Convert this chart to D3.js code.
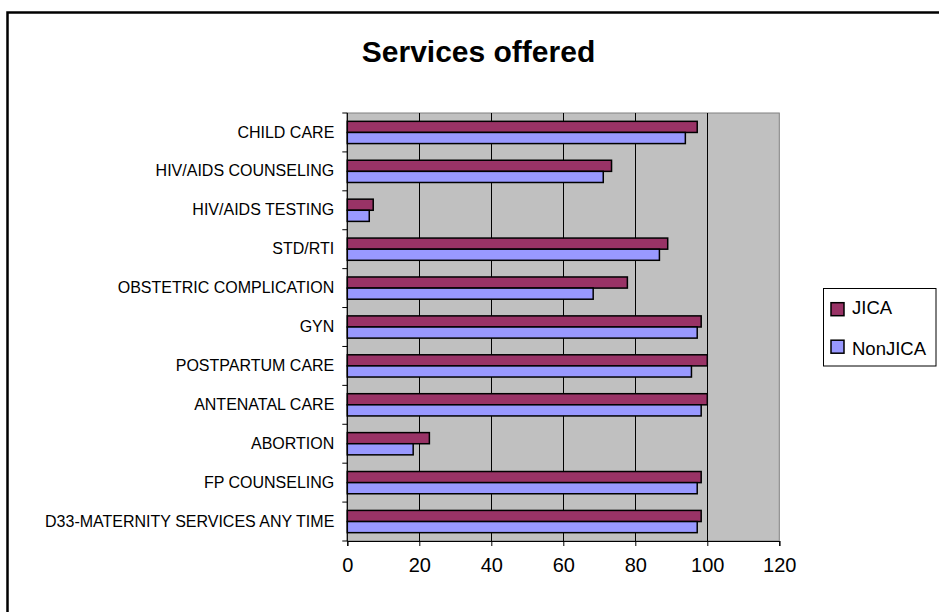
<!DOCTYPE html>
<html>
<head>
<meta charset="utf-8">
<script src="https://cdn.jsdelivr.net/npm/d3@7"></script>
<style>
  html, body { margin: 0; padding: 0; background: #fff; }
  svg { display: block; }
  text { font-family: "Liberation Sans", Arial, sans-serif; }
</style>
</head>
<body>
<script>
// ---- data ----
const categories = [
  "CHILD CARE",
  "HIV/AIDS COUNSELING",
  "HIV/AIDS TESTING",
  "STD/RTI",
  "OBSTETRIC COMPLICATION",
  "GYN",
  "POSTPARTUM CARE",
  "ANTENATAL CARE",
  "ABORTION",
  "FP COUNSELING",
  "D33-MATERNITY SERVICES ANY TIME"
];
const seriesNames = ["JICA", "NonJICA"];
const jicaValues    = [97.2, 73.4, 7.2, 89.0, 77.8, 98.3, 100, 100, 22.8, 98.3, 98.3];
const nonJicaValues = [93.9, 71.1, 6.1, 86.7, 68.3, 97.2, 95.6, 98.3, 18.3, 97.2, 97.2];
const xTicks = [0, 20, 40, 60, 80, 100, 120];
const seriesColors = ["#993366", "#9999FF"];
const title = "Services offered";

// ---- layout ----
const W = 939, H = 612;
const plot = { left: 347.3, right: 779.3, top: 113, bottom: 541 };

const svg = d3.select("body").append("svg").attr("width", W).attr("height", H);

// outer chart border (extends beyond the frame to right/bottom)
svg.append("rect")
  .attr("x", 7.5).attr("y", 12.5)
  .attr("width", 1000).attr("height", 1000)
  .attr("fill", "#fff").attr("stroke", "#000").attr("stroke-width", 2.5);

// title
svg.append("text")
  .attr("x", 478.5).attr("y", 62)
  .attr("text-anchor", "middle")
  .attr("font-size", 30).attr("font-weight", "bold")
  .text(title);

const x = d3.scaleLinear().domain([0, 120]).range([plot.left, plot.right]);
const p = 1.5 / 3.5;
const y = d3.scaleBand().domain(categories)
  .range([plot.top, plot.bottom]).paddingInner(p).paddingOuter(p / 2);
const ySub = d3.scaleBand().domain(seriesNames).range([0, y.bandwidth()]);

// plot background
svg.append("rect")
  .attr("x", plot.left).attr("y", plot.top)
  .attr("width", plot.right - plot.left).attr("height", plot.bottom - plot.top)
  .attr("fill", "#C0C0C0").attr("stroke", "#808080").attr("stroke-width", 1);

// gridlines
svg.append("g").selectAll("line")
  .data(xTicks.filter(d => d > 0 && d < 120))
  .join("line")
  .attr("x1", d => Math.round(x(d)) + 0.5).attr("x2", d => Math.round(x(d)) + 0.5)
  .attr("y1", plot.top).attr("y2", plot.bottom)
  .attr("stroke", "#000").attr("stroke-width", 1);

// bars
const data = categories.map((c, i) => ({ cat: c, vals: [jicaValues[i], nonJicaValues[i]] }));
const groups = svg.append("g").selectAll("g")
  .data(data).join("g")
  .attr("transform", d => `translate(0,${y(d.cat)})`);
groups.selectAll("rect")
  .data(d => d.vals.map((v, k) => ({ name: seriesNames[k], v, k })))
  .join("rect")
  .attr("x", x(0))
  .attr("y", d => ySub(d.name))
  .attr("width", d => x(d.v) - x(0))
  .attr("height", ySub.bandwidth())
  .attr("fill", d => seriesColors[d.k])
  .attr("stroke", "#000").attr("stroke-width", 1.5);

// x axis
const xAxis = d3.axisBottom(x).tickValues(xTicks).tickSizeOuter(0).tickSize(5).tickPadding(5);
const gx = svg.append("g").attr("transform", `translate(0,${plot.bottom})`).call(xAxis);
gx.select(".domain").attr("stroke", "#000").attr("stroke-width", 1.2);
gx.selectAll(".tick line").attr("stroke", "#000");
gx.selectAll(".tick text")
  .attr("font-size", 20).attr("fill", "#000")
  .attr("font-family", "'Liberation Sans', Arial, sans-serif")
  .attr("dy", "1.05em");

// y axis line + ticks at band boundaries
const gy = svg.append("g");
gy.append("line")
  .attr("x1", plot.left).attr("x2", plot.left)
  .attr("y1", plot.top).attr("y2", plot.bottom)
  .attr("stroke", "#000").attr("stroke-width", 1.2);
const boundaries = categories.map(c => y(c) - y.step() * p / 2).concat([plot.bottom]);
gy.selectAll("line.t").data(boundaries).join("line")
  .attr("class", "t")
  .attr("x1", plot.left - 5).attr("x2", plot.left)
  .attr("y1", d => d).attr("y2", d => d)
  .attr("stroke", "#000");
gy.selectAll("text").data(categories).join("text")
  .attr("x", plot.left - 13)
  .attr("y", d => y(d) + y.bandwidth() / 2)
  .attr("dy", "0.32em")
  .attr("text-anchor", "end")
  .attr("font-size", 16)
  .text(d => d);

// legend
const lg = svg.append("g");
lg.append("rect")
  .attr("x", 823.5).attr("y", 288.5).attr("width", 112.5).attr("height", 77.5)
  .attr("fill", "#fff").attr("stroke", "#000").attr("stroke-width", 1);
const legendRows = [{ name: seriesNames[0], sy: 302.7, ty: 313.5 }, { name: seriesNames[1], sy: 340.2, ty: 355 }];
lg.selectAll("rect.sw").data(legendRows).join("rect")
  .attr("class", "sw")
  .attr("x", 831).attr("y", d => d.sy).attr("width", 13).attr("height", 13)
  .attr("fill", (d, i) => seriesColors[i]).attr("stroke", "#000").attr("stroke-width", 1.5);
lg.selectAll("text").data(legendRows).join("text")
  .attr("x", 852).attr("y", d => d.ty)
  .attr("font-size", 18.5)
  .text(d => d.name);
</script>
</body>
</html>
